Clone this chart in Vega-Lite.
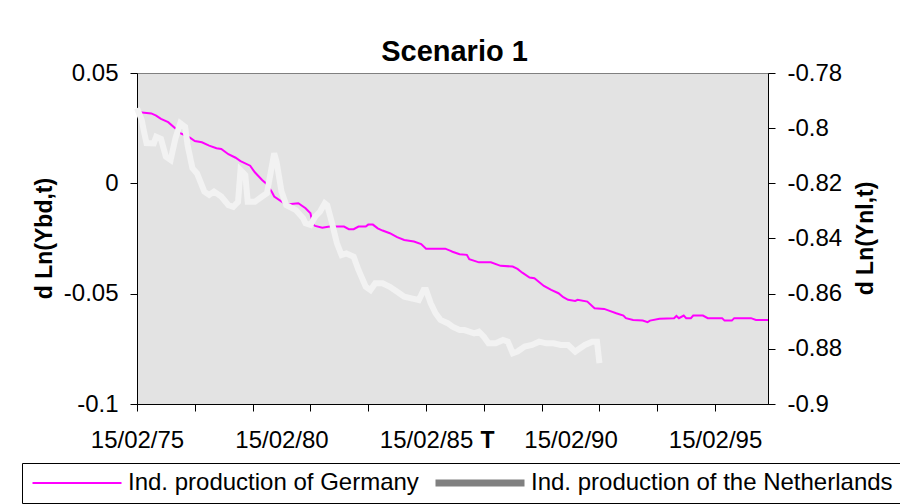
{
  "$schema": "https://vega.github.io/schema/vega-lite/v6.json",
  "width": 631,
  "height": 331,
  "autosize": {"type": "none"},
  "padding": {"left": 137, "top": 73, "right": 132, "bottom": 100},
  "background": "white",
  "config": {
    "font": "Liberation Sans",
    "view": {"fill": "#e3e3e3", "stroke": "#808080", "strokeWidth": 1},
    "axis": {
      "domainColor": "#000000", "tickColor": "#000000", "labelColor": "#000000",
      "labelFontSize": 24, "labelFont": "Liberation Sans", "titleFont": "Liberation Sans",
      "titleFontSize": 23, "titleFontWeight": "bold", "titleColor": "#000000",
      "grid": false, "domainWidth": 1, "tickWidth": 1, "tickSize": 7
    }
  },
  "title": {"text": "Scenario 1", "fontSize": 29, "fontWeight": "bold", "font": "Liberation Sans", "color": "#000000", "anchor": "middle", "frame": "group", "baseline": "alphabetic", "offset": 12, "dx": 2, "dy": 41},
  "data": {"values": [
    {"date": "1975-02-15", "series": "Ind. production of Germany", "value": 0.0323},
    {"date": "1975-08-15", "series": "Ind. production of Germany", "value": 0.0317},
    {"date": "1975-10-15", "series": "Ind. production of Germany", "value": 0.0307},
    {"date": "1975-12-15", "series": "Ind. production of Germany", "value": 0.0292},
    {"date": "1976-03-15", "series": "Ind. production of Germany", "value": 0.0277},
    {"date": "1976-06-15", "series": "Ind. production of Germany", "value": 0.0249},
    {"date": "1976-08-15", "series": "Ind. production of Germany", "value": 0.0227},
    {"date": "1976-12-15", "series": "Ind. production of Germany", "value": 0.0207},
    {"date": "1977-02-15", "series": "Ind. production of Germany", "value": 0.0192},
    {"date": "1977-05-15", "series": "Ind. production of Germany", "value": 0.0186},
    {"date": "1977-08-15", "series": "Ind. production of Germany", "value": 0.0171},
    {"date": "1977-11-15", "series": "Ind. production of Germany", "value": 0.0159},
    {"date": "1978-01-15", "series": "Ind. production of Germany", "value": 0.0156},
    {"date": "1978-04-15", "series": "Ind. production of Germany", "value": 0.0132},
    {"date": "1978-07-15", "series": "Ind. production of Germany", "value": 0.0116},
    {"date": "1978-09-15", "series": "Ind. production of Germany", "value": 0.0101},
    {"date": "1979-01-15", "series": "Ind. production of Germany", "value": 0.0080},
    {"date": "1979-03-15", "series": "Ind. production of Germany", "value": 0.0050},
    {"date": "1979-06-15", "series": "Ind. production of Germany", "value": 0.0015},
    {"date": "1979-08-15", "series": "Ind. production of Germany", "value": -0.0004},
    {"date": "1979-10-15", "series": "Ind. production of Germany", "value": -0.0038},
    {"date": "1979-11-15", "series": "Ind. production of Germany", "value": -0.0060},
    {"date": "1980-03-15", "series": "Ind. production of Germany", "value": -0.0089},
    {"date": "1980-05-15", "series": "Ind. production of Germany", "value": -0.0095},
    {"date": "1980-09-15", "series": "Ind. production of Germany", "value": -0.0090},
    {"date": "1980-12-15", "series": "Ind. production of Germany", "value": -0.0113},
    {"date": "1981-02-15", "series": "Ind. production of Germany", "value": -0.0136},
    {"date": "1981-03-15", "series": "Ind. production of Germany", "value": -0.0184},
    {"date": "1981-04-15", "series": "Ind. production of Germany", "value": -0.0193},
    {"date": "1981-07-15", "series": "Ind. production of Germany", "value": -0.0201},
    {"date": "1981-10-15", "series": "Ind. production of Germany", "value": -0.0196},
    {"date": "1982-04-15", "series": "Ind. production of Germany", "value": -0.0196},
    {"date": "1982-06-15", "series": "Ind. production of Germany", "value": -0.0208},
    {"date": "1982-08-15", "series": "Ind. production of Germany", "value": -0.0208},
    {"date": "1982-10-15", "series": "Ind. production of Germany", "value": -0.0196},
    {"date": "1983-01-15", "series": "Ind. production of Germany", "value": -0.0196},
    {"date": "1983-02-15", "series": "Ind. production of Germany", "value": -0.0187},
    {"date": "1983-04-15", "series": "Ind. production of Germany", "value": -0.0187},
    {"date": "1983-06-15", "series": "Ind. production of Germany", "value": -0.0204},
    {"date": "1983-08-15", "series": "Ind. production of Germany", "value": -0.0214},
    {"date": "1983-11-15", "series": "Ind. production of Germany", "value": -0.0226},
    {"date": "1984-02-15", "series": "Ind. production of Germany", "value": -0.0244},
    {"date": "1984-05-15", "series": "Ind. production of Germany", "value": -0.0257},
    {"date": "1984-09-15", "series": "Ind. production of Germany", "value": -0.0264},
    {"date": "1984-12-15", "series": "Ind. production of Germany", "value": -0.0275},
    {"date": "1985-02-15", "series": "Ind. production of Germany", "value": -0.0296},
    {"date": "1985-10-15", "series": "Ind. production of Germany", "value": -0.0296},
    {"date": "1985-12-15", "series": "Ind. production of Germany", "value": -0.0305},
    {"date": "1986-01-15", "series": "Ind. production of Germany", "value": -0.0310},
    {"date": "1986-04-15", "series": "Ind. production of Germany", "value": -0.0321},
    {"date": "1986-07-15", "series": "Ind. production of Germany", "value": -0.0324},
    {"date": "1986-08-15", "series": "Ind. production of Germany", "value": -0.0344},
    {"date": "1986-12-15", "series": "Ind. production of Germany", "value": -0.0358},
    {"date": "1987-05-15", "series": "Ind. production of Germany", "value": -0.0358},
    {"date": "1987-09-15", "series": "Ind. production of Germany", "value": -0.0374},
    {"date": "1988-02-15", "series": "Ind. production of Germany", "value": -0.0377},
    {"date": "1988-04-15", "series": "Ind. production of Germany", "value": -0.0388},
    {"date": "1988-06-15", "series": "Ind. production of Germany", "value": -0.0405},
    {"date": "1988-09-15", "series": "Ind. production of Germany", "value": -0.0427},
    {"date": "1988-11-15", "series": "Ind. production of Germany", "value": -0.0430},
    {"date": "1989-03-15", "series": "Ind. production of Germany", "value": -0.0465},
    {"date": "1989-06-15", "series": "Ind. production of Germany", "value": -0.0483},
    {"date": "1989-09-15", "series": "Ind. production of Germany", "value": -0.0498},
    {"date": "1989-11-15", "series": "Ind. production of Germany", "value": -0.0516},
    {"date": "1990-01-15", "series": "Ind. production of Germany", "value": -0.0528},
    {"date": "1990-04-15", "series": "Ind. production of Germany", "value": -0.0533},
    {"date": "1990-05-15", "series": "Ind. production of Germany", "value": -0.0528},
    {"date": "1990-09-15", "series": "Ind. production of Germany", "value": -0.0536},
    {"date": "1990-12-15", "series": "Ind. production of Germany", "value": -0.0566},
    {"date": "1991-04-15", "series": "Ind. production of Germany", "value": -0.0569},
    {"date": "1991-06-15", "series": "Ind. production of Germany", "value": -0.0577},
    {"date": "1991-09-15", "series": "Ind. production of Germany", "value": -0.0589},
    {"date": "1991-12-15", "series": "Ind. production of Germany", "value": -0.0599},
    {"date": "1992-01-15", "series": "Ind. production of Germany", "value": -0.0611},
    {"date": "1992-04-15", "series": "Ind. production of Germany", "value": -0.0619},
    {"date": "1992-08-15", "series": "Ind. production of Germany", "value": -0.0622},
    {"date": "1992-10-15", "series": "Ind. production of Germany", "value": -0.0629},
    {"date": "1992-11-15", "series": "Ind. production of Germany", "value": -0.0622},
    {"date": "1993-03-15", "series": "Ind. production of Germany", "value": -0.0614},
    {"date": "1993-09-15", "series": "Ind. production of Germany", "value": -0.0611},
    {"date": "1993-10-15", "series": "Ind. production of Germany", "value": -0.0601},
    {"date": "1993-11-15", "series": "Ind. production of Germany", "value": -0.0611},
    {"date": "1994-01-15", "series": "Ind. production of Germany", "value": -0.0599},
    {"date": "1994-02-15", "series": "Ind. production of Germany", "value": -0.0611},
    {"date": "1994-04-15", "series": "Ind. production of Germany", "value": -0.0611},
    {"date": "1994-05-15", "series": "Ind. production of Germany", "value": -0.0599},
    {"date": "1994-09-15", "series": "Ind. production of Germany", "value": -0.0599},
    {"date": "1994-11-15", "series": "Ind. production of Germany", "value": -0.0611},
    {"date": "1995-05-15", "series": "Ind. production of Germany", "value": -0.0611},
    {"date": "1995-06-15", "series": "Ind. production of Germany", "value": -0.0622},
    {"date": "1995-09-15", "series": "Ind. production of Germany", "value": -0.0622},
    {"date": "1995-10-15", "series": "Ind. production of Germany", "value": -0.0611},
    {"date": "1996-05-15", "series": "Ind. production of Germany", "value": -0.0611},
    {"date": "1996-07-15", "series": "Ind. production of Germany", "value": -0.0619},
    {"date": "1996-12-15", "series": "Ind. production of Germany", "value": -0.0619},
    {"date": "1975-02-15", "series": "Ind. production of the Netherlands", "value": -0.7927},
    {"date": "1975-04-15", "series": "Ind. production of the Netherlands", "value": -0.7970},
    {"date": "1975-05-15", "series": "Ind. production of the Netherlands", "value": -0.8013},
    {"date": "1975-06-15", "series": "Ind. production of the Netherlands", "value": -0.8054},
    {"date": "1975-09-15", "series": "Ind. production of the Netherlands", "value": -0.8055},
    {"date": "1975-10-15", "series": "Ind. production of the Netherlands", "value": -0.8031},
    {"date": "1975-12-15", "series": "Ind. production of the Netherlands", "value": -0.8039},
    {"date": "1976-02-15", "series": "Ind. production of the Netherlands", "value": -0.8103},
    {"date": "1976-04-15", "series": "Ind. production of the Netherlands", "value": -0.8115},
    {"date": "1976-06-15", "series": "Ind. production of the Netherlands", "value": -0.8037},
    {"date": "1976-08-15", "series": "Ind. production of the Netherlands", "value": -0.7982},
    {"date": "1976-10-15", "series": "Ind. production of the Netherlands", "value": -0.7995},
    {"date": "1976-11-15", "series": "Ind. production of the Netherlands", "value": -0.8061},
    {"date": "1977-01-15", "series": "Ind. production of the Netherlands", "value": -0.8145},
    {"date": "1977-03-15", "series": "Ind. production of the Netherlands", "value": -0.8164},
    {"date": "1977-06-15", "series": "Ind. production of the Netherlands", "value": -0.8230},
    {"date": "1977-08-15", "series": "Ind. production of the Netherlands", "value": -0.8242},
    {"date": "1977-10-15", "series": "Ind. production of the Netherlands", "value": -0.8230},
    {"date": "1978-01-15", "series": "Ind. production of the Netherlands", "value": -0.8248},
    {"date": "1978-04-15", "series": "Ind. production of the Netherlands", "value": -0.8279},
    {"date": "1978-06-15", "series": "Ind. production of the Netherlands", "value": -0.8285},
    {"date": "1978-08-15", "series": "Ind. production of the Netherlands", "value": -0.8267},
    {"date": "1978-09-15", "series": "Ind. production of the Netherlands", "value": -0.8152},
    {"date": "1978-11-15", "series": "Ind. production of the Netherlands", "value": -0.8170},
    {"date": "1978-12-15", "series": "Ind. production of the Netherlands", "value": -0.8267},
    {"date": "1979-03-15", "series": "Ind. production of the Netherlands", "value": -0.8267},
    {"date": "1979-06-15", "series": "Ind. production of the Netherlands", "value": -0.8248},
    {"date": "1979-08-15", "series": "Ind. production of the Netherlands", "value": -0.8236},
    {"date": "1979-11-15", "series": "Ind. production of the Netherlands", "value": -0.8091},
    {"date": "1979-12-15", "series": "Ind. production of the Netherlands", "value": -0.8122},
    {"date": "1980-02-15", "series": "Ind. production of the Netherlands", "value": -0.8230},
    {"date": "1980-04-15", "series": "Ind. production of the Netherlands", "value": -0.8279},
    {"date": "1980-08-15", "series": "Ind. production of the Netherlands", "value": -0.8297},
    {"date": "1980-11-15", "series": "Ind. production of the Netherlands", "value": -0.8327},
    {"date": "1980-12-15", "series": "Ind. production of the Netherlands", "value": -0.8345},
    {"date": "1981-02-15", "series": "Ind. production of the Netherlands", "value": -0.8351},
    {"date": "1981-04-15", "series": "Ind. production of the Netherlands", "value": -0.8321},
    {"date": "1981-06-15", "series": "Ind. production of the Netherlands", "value": -0.8303},
    {"date": "1981-08-15", "series": "Ind. production of the Netherlands", "value": -0.8272},
    {"date": "1981-09-15", "series": "Ind. production of the Netherlands", "value": -0.8279},
    {"date": "1981-11-15", "series": "Ind. production of the Netherlands", "value": -0.8345},
    {"date": "1982-01-15", "series": "Ind. production of the Netherlands", "value": -0.8417},
    {"date": "1982-03-15", "series": "Ind. production of the Netherlands", "value": -0.8460},
    {"date": "1982-05-15", "series": "Ind. production of the Netherlands", "value": -0.8454},
    {"date": "1982-08-15", "series": "Ind. production of the Netherlands", "value": -0.8466},
    {"date": "1982-10-15", "series": "Ind. production of the Netherlands", "value": -0.8514},
    {"date": "1983-01-15", "series": "Ind. production of the Netherlands", "value": -0.8575},
    {"date": "1983-03-15", "series": "Ind. production of the Netherlands", "value": -0.8587},
    {"date": "1983-05-15", "series": "Ind. production of the Netherlands", "value": -0.8562},
    {"date": "1983-08-15", "series": "Ind. production of the Netherlands", "value": -0.8562},
    {"date": "1983-11-15", "series": "Ind. production of the Netherlands", "value": -0.8575},
    {"date": "1984-02-15", "series": "Ind. production of the Netherlands", "value": -0.8593},
    {"date": "1984-05-15", "series": "Ind. production of the Netherlands", "value": -0.8611},
    {"date": "1984-08-15", "series": "Ind. production of the Netherlands", "value": -0.8617},
    {"date": "1984-11-15", "series": "Ind. production of the Netherlands", "value": -0.8623},
    {"date": "1985-01-15", "series": "Ind. production of the Netherlands", "value": -0.8587},
    {"date": "1985-02-15", "series": "Ind. production of the Netherlands", "value": -0.8587},
    {"date": "1985-04-15", "series": "Ind. production of the Netherlands", "value": -0.8635},
    {"date": "1985-06-15", "series": "Ind. production of the Netherlands", "value": -0.8671},
    {"date": "1985-08-15", "series": "Ind. production of the Netherlands", "value": -0.8695},
    {"date": "1985-11-15", "series": "Ind. production of the Netherlands", "value": -0.8707},
    {"date": "1986-01-15", "series": "Ind. production of the Netherlands", "value": -0.8720},
    {"date": "1986-04-15", "series": "Ind. production of the Netherlands", "value": -0.8732},
    {"date": "1986-06-15", "series": "Ind. production of the Netherlands", "value": -0.8732},
    {"date": "1986-10-15", "series": "Ind. production of the Netherlands", "value": -0.8744},
    {"date": "1986-12-15", "series": "Ind. production of the Netherlands", "value": -0.8738},
    {"date": "1987-02-15", "series": "Ind. production of the Netherlands", "value": -0.8756},
    {"date": "1987-04-15", "series": "Ind. production of the Netherlands", "value": -0.8780},
    {"date": "1987-07-15", "series": "Ind. production of the Netherlands", "value": -0.8780},
    {"date": "1987-10-15", "series": "Ind. production of the Netherlands", "value": -0.8768},
    {"date": "1987-12-15", "series": "Ind. production of the Netherlands", "value": -0.8774},
    {"date": "1988-02-15", "series": "Ind. production of the Netherlands", "value": -0.8816},
    {"date": "1988-04-15", "series": "Ind. production of the Netherlands", "value": -0.8810},
    {"date": "1988-07-15", "series": "Ind. production of the Netherlands", "value": -0.8792},
    {"date": "1988-10-15", "series": "Ind. production of the Netherlands", "value": -0.8786},
    {"date": "1989-01-15", "series": "Ind. production of the Netherlands", "value": -0.8774},
    {"date": "1989-04-15", "series": "Ind. production of the Netherlands", "value": -0.8780},
    {"date": "1989-07-15", "series": "Ind. production of the Netherlands", "value": -0.8780},
    {"date": "1989-10-15", "series": "Ind. production of the Netherlands", "value": -0.8786},
    {"date": "1990-01-15", "series": "Ind. production of the Netherlands", "value": -0.8786},
    {"date": "1990-04-15", "series": "Ind. production of the Netherlands", "value": -0.8810},
    {"date": "1990-06-15", "series": "Ind. production of the Netherlands", "value": -0.8798},
    {"date": "1990-08-15", "series": "Ind. production of the Netherlands", "value": -0.8786},
    {"date": "1990-11-15", "series": "Ind. production of the Netherlands", "value": -0.8774},
    {"date": "1991-01-15", "series": "Ind. production of the Netherlands", "value": -0.8774},
    {"date": "1991-02-15", "series": "Ind. production of the Netherlands", "value": -0.8852}
  ]},
  "layer": [
    {
      "transform": [{"filter": "datum.series === 'Ind. production of Germany'"}],
      "mark": {"type": "line", "interpolate": "linear"},
      "encoding": {
        "x": {
          "field": "date", "type": "temporal",
          "scale": {"domain": [{"year": 1975, "month": 2, "date": 15, "utc": true}, {"year": 1996, "month": 12, "date": 15, "utc": true}]},
          "axis": {
            "title": "T", "titleX": 350, "titleY": 43, "titleBaseline": "alphabetic", "titleAlign": "center", "titleAngle": 0,
            "values": [
              {"year": 1975, "month": 2, "date": 15, "utc": true},
              {"year": 1977, "month": 2, "date": 15, "utc": true},
              {"year": 1979, "month": 2, "date": 15, "utc": true},
              {"year": 1980, "month": 2, "date": 15, "utc": true},
              {"year": 1981, "month": 2, "date": 15, "utc": true},
              {"year": 1983, "month": 2, "date": 15, "utc": true},
              {"year": 1985, "month": 2, "date": 15, "utc": true},
              {"year": 1987, "month": 2, "date": 15, "utc": true},
              {"year": 1989, "month": 2, "date": 15, "utc": true},
              {"year": 1990, "month": 2, "date": 15, "utc": true},
              {"year": 1991, "month": 2, "date": 15, "utc": true},
              {"year": 1993, "month": 2, "date": 15, "utc": true},
              {"year": 1995, "month": 2, "date": 15, "utc": true}
            ],
            "labelExpr": "utcyear(datum.value) % 5 === 0 ? utcFormat(datum.value, '%d/%m/%y') : ''",
            "labelOverlap": false, "labelFlush": false, "labelPadding": 17,
            "tickOpacity": {"condition": {"test": "(utcyear(datum.value) - 1975) % 2 === 0", "value": 1}, "value": 0}
          }
        },
        "y": {
          "field": "value", "type": "quantitative",
          "scale": {"domain": [-0.1, 0.05], "nice": false, "zero": false},
          "axis": {
            "title": "d Ln(Ybd,t)", "titleX": -86, "titleY": 165, "titleAngle": 270, "titleAlign": "center", "titleBaseline": "alphabetic",
            "values": [0.05, 0, -0.05, -0.1], "labelExpr": "'' + datum.value", "labelPadding": 12,
            "encode": {"ticks": {"update": {"x": {"value": 7}, "x2": {"value": -7}}}}
          }
        },
        "color": {
          "field": "series", "type": "nominal",
          "scale": {"domain": ["Ind. production of Germany", "Ind. production of the Netherlands"], "range": ["#ff00ff", "#808080"]},
          "legend": {"title": null, "orient": "none", "legendX": -115, "legendY": 390, "direction": "horizontal", "columns": 2, "symbolType": "stroke", "symbolSize": 7921, "clipHeight": 24, "labelFontSize": 24, "labelFont": "Liberation Sans", "labelColor": "#000000", "labelLimit": 600, "labelOffset": 3, "columnPadding": 14, "padding": 8, "symbolOffset": -1, "strokeColor": "#000000", "fillColor": "#ffffff", "cornerRadius": 0}
        },
        "strokeWidth": {
          "field": "series", "type": "nominal",
          "scale": {"domain": ["Ind. production of Germany", "Ind. production of the Netherlands"], "range": [2, 7]},
          "legend": {"title": null, "orient": "none", "legendX": -115, "legendY": 390, "direction": "horizontal", "columns": 2, "symbolType": "stroke", "symbolSize": 7921, "clipHeight": 24, "labelFontSize": 24, "labelFont": "Liberation Sans", "labelColor": "#000000", "labelLimit": 600, "labelOffset": 3, "columnPadding": 14, "padding": 8, "symbolOffset": -1, "strokeColor": "#000000", "fillColor": "#ffffff", "cornerRadius": 0}
        }
      }
    },
    {
      "transform": [{"filter": "datum.series === 'Ind. production of the Netherlands'"}],
      "mark": {"type": "line", "stroke": "#f2f2f2", "strokeWidth": 6, "interpolate": "linear"},
      "encoding": {
        "x": {"field": "date", "type": "temporal"},
        "y": {
          "field": "value", "type": "quantitative",
          "scale": {"domain": [-0.9, -0.78], "nice": false, "zero": false},
          "axis": {
            "orient": "right",
            "title": "d Ln(Ynl,t)", "titleX": 104, "titleY": 165, "titleAngle": 270, "titleAlign": "center", "titleBaseline": "alphabetic",
            "values": [-0.78, -0.8, -0.82, -0.84, -0.86, -0.88, -0.9], "labelExpr": "'' + datum.value", "labelPadding": 12,
            "encode": {"ticks": {"update": {"x": {"value": -7}, "x2": {"value": 7}}}}
          }
        }
      }
    }
  ],
  "resolve": {"scale": {"y": "independent"}}
}
